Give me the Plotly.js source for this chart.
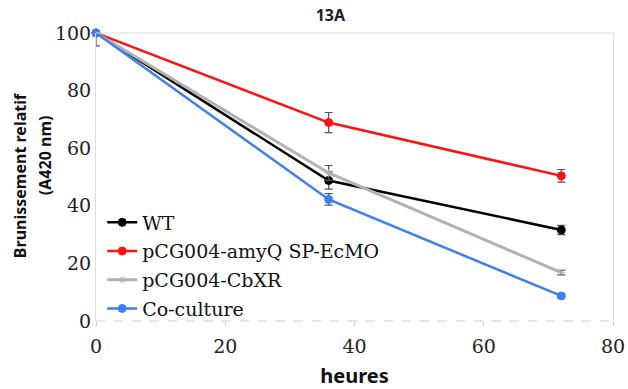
<!DOCTYPE html>
<html><head><meta charset="utf-8">
<script src="https://cdn.plot.ly/plotly-3.0.1.min.js"></script>
<style>body{margin:0;background:#fff}#c{width:628px;height:389px}</style>
</head><body><div id="c"></div>
<script>
const hours = [0, 36, 72];
const seriesNames = ["WT", "pCG004-amyQ SP-EcMO", "pCG004-CbXR", "Co-culture"];
const wt = [100, 48.8, 31.6];
const wtErrPlus = [0, 3.0, 1.6];
const wtErrMinus = [4.5, 3.0, 1.6];
const amyq = [100, 68.9, 50.4];
const amyqErr = [0, 3.5, 2.2];
const amyqErrMinus = [0, 3.5, 2.2];
const cbxr = [100, 51.4, 16.8];
const cbxrErr = [0, 2.6, 0.8];
const cbxrErrMinus = [0, 2.6, 0.8];
const cocult = [100, 42.2, 8.7];
const cocultErr = [0, 2.0, 0.6];
const cocultErrMinus = [0, 2.0, 0.6];
const xTicks = [0, 20, 40, 60, 80];
const yTicks = [0, 20, 40, 60, 80, 100];
const yTitleLines = ["Brunissement relatif", "(A420 nm)"];

const colors = ["#000000", "#ff1111", "#b2b2b2", "#3b7ff0"];
const ys = [wt, amyq, cbxr, cocult];
const ep = [wtErrPlus, amyqErr, cbxrErr, cocultErr];
const em = [wtErrMinus, amyqErrMinus, cbxrErrMinus, cocultErrMinus];
const syms = ["circle", "circle", "asterisk-open", "circle"];
const traces = ys.map((y, i) => ({
  x: hours, y: y, name: seriesNames[i], type: "scatter", mode: "lines+markers",
  legendgroup: "g" + i,
  line: {color: colors[i], width: i === 2 ? 3 : 2.5},
  marker: {color: colors[i], size: i === 2 ? 6 : 8, symbol: syms[i], line: {color: colors[i], width: 1}},
  error_y: {type: "data", symmetric: false, array: ep[i], arrayminus: em[i], color: "#555", thickness: 1.2, width: 4},
  cliponaxis: false
}));

const serif = "DejaVu Serif, serif";
const sans = "Noto Sans, Liberation Sans, sans-serif";
const layout = {
  width: 628, height: 389,
  margin: {l: 96, r: 15, t: 33, b: 68},
  paper_bgcolor: "#fff", plot_bgcolor: "#fff",
  title: {text: "<b>13A</b>", x: 0.526, xanchor: "center", y: 0.975, yanchor: "top",
          font: {family: sans, size: 16, color: "#222"}},
  showlegend: true,
  legend: {x: 0.012, y: 0.408, xanchor: "left", yanchor: "top", bgcolor: "rgba(0,0,0,0)",
           font: {family: serif, size: 19, color: "#111"},
           traceorder: "grouped", tracegroupgap: 1, itemwidth: 30},
  xaxis: {range: [0, 80], tickvals: xTicks, showgrid: false, zeroline: false, showline: false,
          ticks: "outside", ticklen: 4, tickcolor: "#ccd", tickwidth: 1, ticklabelstandoff: 4,
          tickfont: {family: serif, size: 19, color: "#222"},
          title: {text: "<b>heures</b>", standoff: 18, font: {family: sans, size: 20, color: "#111"}}},
  yaxis: {range: [0, 100], tickvals: yTicks, showgrid: false, zeroline: false,
          showline: true, mirror: true, linecolor: "#d8dee2", linewidth: 1, ticks: "",
          tickfont: {family: serif, size: 19, color: "#222"}},
  annotations: [
    {text: "<b>" + yTitleLines[0] + "</b>", xref: "paper", yref: "paper", x: -0.147, y: 0.503,
     xanchor: "center", yanchor: "middle", textangle: -90, showarrow: false,
     font: {family: sans, size: 16, color: "#111"}},
    {text: "<b>" + yTitleLines[1] + "</b>", xref: "paper", yref: "paper", x: -0.0986, y: 0.576,
     xanchor: "center", yanchor: "middle", textangle: -90, showarrow: false,
     font: {family: sans, size: 16, color: "#111"}}
  ],
  shapes: [
    {type: "line", xref: "paper", yref: "paper", x0: 0, x1: 1, y0: 1, y1: 1, line: {color: "#d8dee2", width: 1}},
    {type: "line", xref: "paper", yref: "paper", x0: 0, x1: 1, y0: 0, y1: 0, line: {color: "#c8d0d6", width: 1, dash: "dash"}}
  ]
};
Plotly.newPlot("c", traces, layout, {displayModeBar: false, staticPlot: true});
</script></body></html>
